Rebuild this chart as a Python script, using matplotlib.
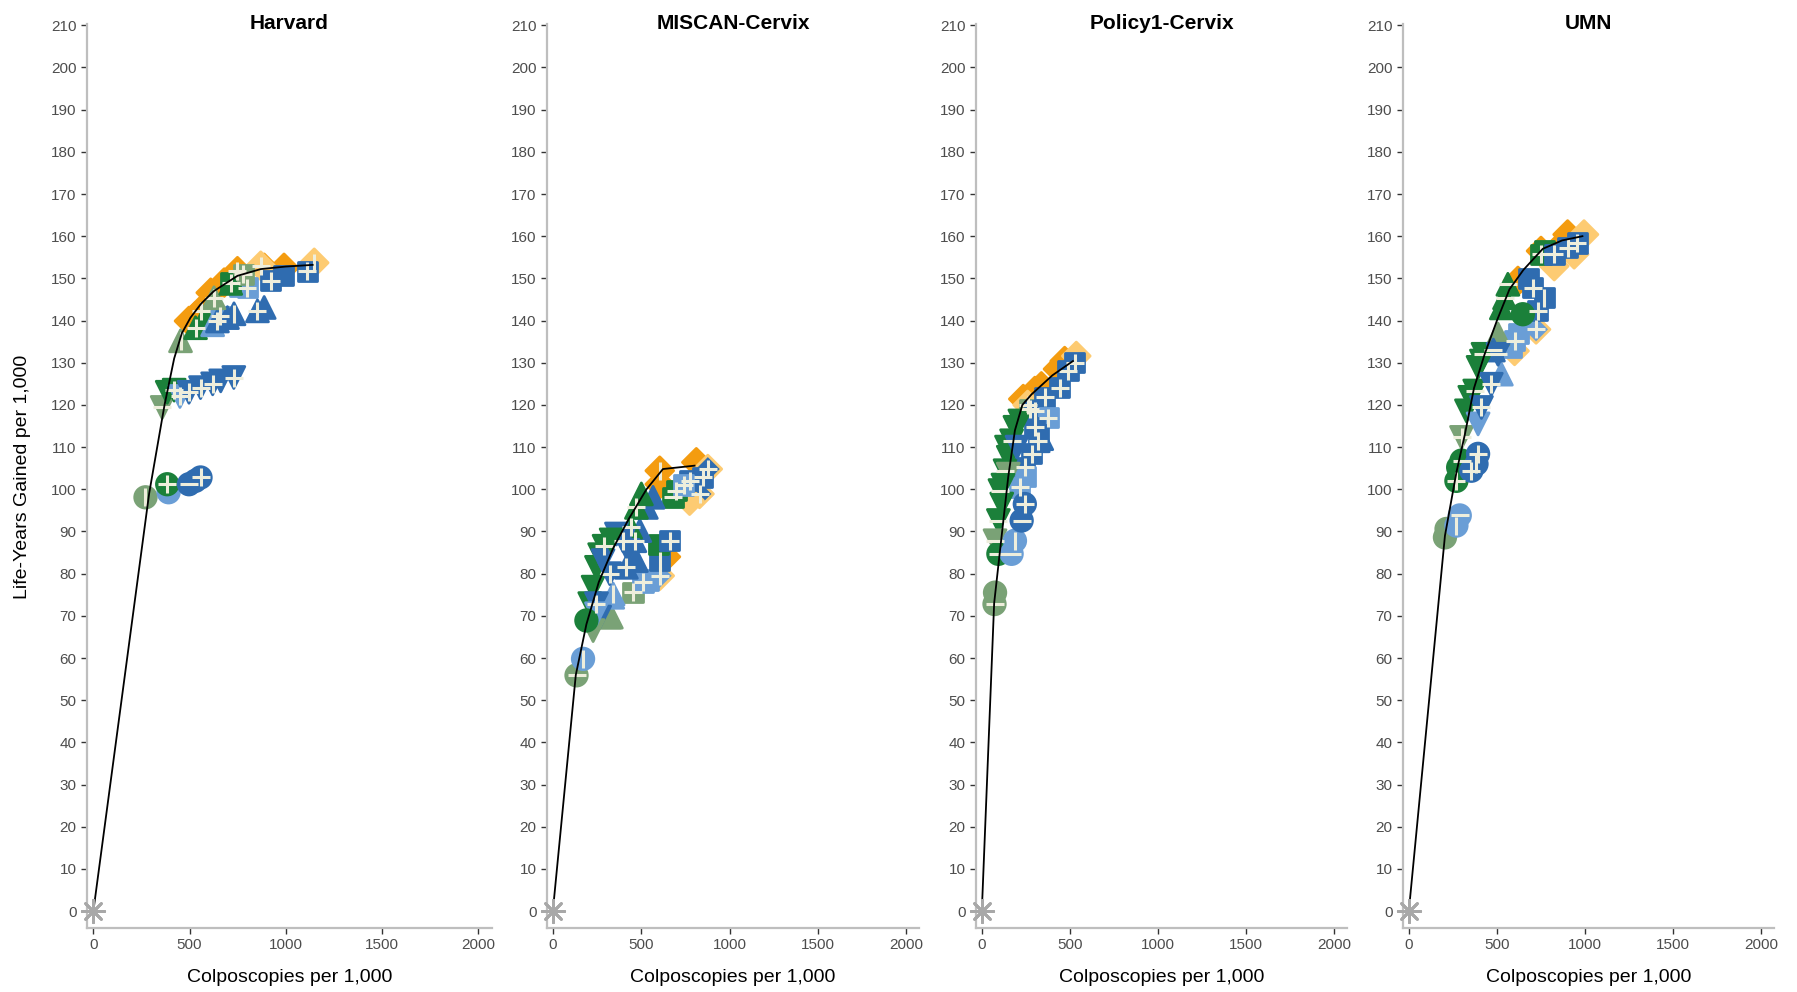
import matplotlib.pyplot as plt

plt.rcParams['font.family'] = ['Liberation Sans', 'DejaVu Sans']

# colour codes used in the point lists ("edge/fill" when they differ)
colores = {'lg': '#7AA276', 'dg': '#1B803A', 'lb': '#6A9ED6', 'db': '#2F6CB0',
           'or': '#F49C10', 'lo': '#FDCB72'}

# ---------------- Harvard ----------------
harvard_x = [497, 530, 557, 610, 680, 749, 888, 991, 870, 1148,
             660, 801, 760, 714, 780, 922, 990, 1113,
             453, 531, 580, 620, 645, 697, 731, 853, 888, 627, 714,
             358, 384, 420, 450, 497, 557, 620, 662, 730,
             271, 391, 384, 497, 530, 557]
harvard_y = [139.9, 141, 142.3, 146.6, 149, 151.7, 152.5, 152.5, 153, 153.7,
             141, 147.8, 148, 149, 151, 149.4, 150.6, 151.7,
             135.2, 138.3, 141, 139, 139.9, 140.7, 141.6, 142.3, 143.1, 145.4, 148.8,
             119.4, 123, 123.5, 122, 123, 124.1, 125, 125.7, 126.5,
             98.1, 99.3, 101.2, 101.2, 102, 102.8]
harvard_forma = 'DDDDDDDDDD' + 'ssssssss' + '^^^^^^^^^^^' + 'vvvvvvvvv' + 'oooooo'
harvard_color = ['or', 'or', 'or', 'or', 'or', 'or', 'or', 'or', 'lo', 'lo',
                 'lb', 'lb', 'lb', 'dg', 'lg', 'db', 'db', 'db',
                 'lg', 'dg', 'dg', 'lb', 'db', 'db', 'db', 'db', 'db', 'lg', 'dg',
                 'lg', 'dg', 'dg', 'lb', 'db', 'db', 'db', 'db', 'db',
                 'lg', 'lb', 'dg', 'db', 'db', 'db']
harvard_marca = '  +  +  +|' + '++ +++ +' + '|+  + |+ + ' + '- +++++ +' + '| +- +'
harvard_fx = [0, 290, 370, 420, 460, 505, 560, 627, 749, 870, 1000, 1140]
harvard_fy = [0, 99, 120, 131, 137, 140.7, 144, 147, 150.6, 152.2, 152.8, 153.2]

# ---------------- MISCAN-Cervix ----------------
miscan_x = [605, 605, 812, 877, 830, 774, 605, 640,
            680, 699, 774, 849, 740, 454, 510, 540, 605, 600, 661,
            322, 331, 341, 339, 416, 473, 464, 492, 529, 567, 473, 501, 440,
            209, 228, 247, 265, 290, 247, 265, 284, 322, 360, 397, 426, 330, 228, 247,
            134, 171, 190]
miscan_y = [104.4, 101.2, 106.4, 104.8, 98.9, 97.3, 79.5, 84,
            98.1, 99.7, 102, 102.8, 101, 75.6, 78, 78.5, 83.1, 87, 87.8,
            69.7, 69.7, 75.2, 74.4, 81.5, 83.1, 87.8, 90.2, 95.7, 98.1, 95.7, 98.9, 91,
            72.9, 76.8, 81.5, 84.5, 86.5, 72.9, 69.7, 83.1, 80, 89.4, 87.8, 85.5, 88, 66.5, 70.5,
            55.9, 59.8, 68.9]
miscan_forma = 'DDDDDDDD' + 'sssssssssss' + '^^^^^^^^^^^^^' + 'vvvvvvvvvvvvvvv' + 'ooo'
miscan_color = ['or', 'or', 'or', 'lo/db', 'lo/db', 'lo', 'lo/lb', 'or',
                'dg', 'dg', 'db', 'db', 'lb', 'lg', 'lb', 'lb', 'db', 'dg', 'db',
                'lg', 'lg', 'lb', 'lb', 'db', 'db', 'db', 'db', 'db', 'db', 'dg', 'dg', 'dg',
                'dg', 'dg', 'dg', 'dg', 'dg', 'db', 'db', 'db', 'db', 'db', 'db', 'db', 'dg', 'lg', 'lb',
                'lg', 'lb', 'dg']
miscan_marca = '|  ++ + ' + '-++++++ | +' + '  | + +   + +' + '    ++  + +    ' + '-| '
miscan_fx = [0, 130, 190, 260, 341, 430, 530, 623, 802]
miscan_fy = [0, 56, 68, 78, 86, 93, 100, 104.8, 105.6]

# ---------------- Policy1-Cervix ----------------
policy_x = [235, 301, 338, 432, 470, 536, 260,
            273, 301, 357, 376, 442, 489, 527, 320, 244, 282, 301, 216, 250,
            320, 340,
            94, 113, 103, 132, 150, 169, 188, 216, 75, 150, 120, 140, 200,
            72, 75, 94, 169, 188, 226, 244]
policy_y = [121.4, 123.3, 124.4, 128.5, 130.4, 131.6, 120,
            119, 118.6, 121.8, 117, 124.1, 128.1, 130, 113, 105.2, 108.4, 114.7, 100.5, 103,
            111.5, 112,
            92.6, 96.5, 99.7, 104.4, 107.6, 111.5, 114.7, 116.2, 87.8, 103.6, 101, 110, 110,
            72.8, 75.5, 84.7, 84.7, 87.8, 92.6, 96.5]
policy_forma = 'DDDDDDD' + 'sssssssssssss' + '^^' + 'vvvvvvvvvvvvv' + 'ooooooo'
policy_color = ['or', 'or', 'or', 'or', 'or', 'lo', 'lo',
                'lg', 'db', 'db', 'lb', 'db', 'db', 'db', 'db', 'db', 'db', 'db', 'lb', 'lb',
                'db', 'db',
                'dg', 'dg', 'dg', 'dg', 'dg', 'dg', 'dg', 'dg', 'lg', 'lg', 'dg', 'dg', 'db',
                'lg', 'lg', 'dg', 'lb', 'lb', 'db', 'db']
policy_marca = '      +' + '+++++++ ++++ ' + '+ ' + '- -- -  -    ' + '- --|-+'
policy_fx = [0, 70, 110, 150, 188, 230, 282, 400, 517]
policy_fy = [0, 73, 88, 103, 114, 120, 122.5, 127, 130.4]

# ---------------- UMN ----------------
umn_x = [619, 750, 863, 901, 994, 938, 825, 600, 722,
         750, 769, 825, 901, 957, 703, 769, 731, 600, 580, 620, 680,
         562, 543, 525, 506, 525, 480,
         327, 346, 374, 393, 412, 421, 299, 393, 412, 468, 506,
         205, 214, 270, 289, 270, 280, 299, 355, 384, 393, 647]
umn_y = [149.4, 156.5, 157.8, 160.4, 160.4, 155.7, 152.9, 132.8, 137.9,
         155.7, 156.5, 155.7, 157.3, 158.4, 147.8, 145.4, 142.3, 135.2, 133.6, 137, 150,
         148.6, 145.4, 143, 136.8, 127.3, 133,
         118.6, 121.8, 123.3, 128.9, 130.4, 132, 112.3, 115.5, 119.4, 124.9, 132,
         88.6, 90.6, 91.4, 93.8, 102, 105.2, 106.8, 104.4, 106, 108.4, 141.5]
umn_forma = 'DDDDDDDDD' + 'ssssssssssss' + '^^^^^^' + 'vvvvvvvvvvv' + 'ooooooooooo'
umn_color = ['or', 'or', 'or', 'or', 'lo', 'lo', 'lo', 'lo', 'lo/lb',
             'dg', 'dg', 'db', 'db', 'db', 'db', 'db', 'db', 'lb', 'lb', 'lb', 'db',
             'dg', 'dg', 'dg', 'lg', 'lb', 'db',
             'dg', 'dg', 'dg', 'dg', 'dg', 'dg', 'lg', 'lb', 'db', 'db', 'db',
             'lg', 'lg', 'lb', 'lb', 'dg', 'dg', 'dg', 'db', 'db', 'db', 'dg']
umn_marca = '        +' + '+ ++++|++  ' + ' --   ' + '-  -  -+ ++' + '-  |-+ -+|+'
umn_fx = [0, 205, 270, 318, 370, 430, 500, 571, 650, 760, 870, 985]
umn_fy = [0, 89, 104, 113, 124, 132, 140, 147.4, 152, 157, 159, 160]

tamanos = {'o': 240, 's': 190, 'D': 200, '^': 250, 'v': 250}
marcas = {'+': '+', '|': '|', '-': '_'}


def panel(ax, titulo, px, py, forma, color, marca, fx, fy):
    for f in 'Ds^vo':
        idx = [i for i in range(len(px)) if forma[i] == f]
        if not idx:
            continue
        bordes = [colores[color[i].split('/')[0]] for i in idx]
        rellenos = [colores[color[i].split('/')[-1]] for i in idx]
        ax.scatter([px[i] for i in idx], [py[i] for i in idx], marker=f, s=tamanos[f],
                   c=rellenos, edgecolors=bordes, linewidths=2, zorder=2)
    for m, mk in marcas.items():
        idx = [i for i in range(len(px)) if i < len(marca) and marca[i] == m]
        if idx:
            ax.scatter([px[i] for i in idx], [py[i] for i in idx], marker=mk, s=150,
                       c='#EEEEDC', linewidths=2.2, zorder=3)
    ax.plot(fx, fy, color='black', lw=1.3, zorder=4)
    ax.scatter([0], [0], marker=(8, 2, 0), s=260, c='#A8A8A8', linewidths=2,
               zorder=5, clip_on=False)

    ax.set_xlim(-33, 2072)
    ax.set_ylim(-4, 210.3)
    ax.set_xticks([0, 500, 1000, 1500, 2000])
    ax.set_yticks(range(0, 211, 10))
    ax.tick_params(length=4, width=1, color='#333333', labelcolor='#4D4D4D', labelsize=11)
    for lado in ['top', 'right']:
        ax.spines[lado].set_visible(False)
    for lado in ['left', 'bottom']:
        ax.spines[lado].set_color('#BEBEBE')
        ax.spines[lado].set_linewidth(1.6)
    ax.annotate(titulo, xy=(0.5, 1), xycoords='axes fraction', xytext=(0, -3.6),
                textcoords='offset points', ha='center', va='baseline',
                fontsize=15, fontweight='bold')
    ax.annotate('Colposcopies per 1,000', xy=(0.5, 0), xycoords='axes fraction',
                xytext=(0, -36), textcoords='offset points', ha='center', va='center',
                fontsize=14)


fig = plt.figure(figsize=(17.97, 9.92), dpi=100)
cajas = [(87, 405), (547, 372), (976, 371), (1403, 371)]
datos = [('Harvard', harvard_x, harvard_y, harvard_forma, harvard_color, harvard_marca, harvard_fx, harvard_fy),
         ('MISCAN-Cervix', miscan_x, miscan_y, miscan_forma, miscan_color, miscan_marca, miscan_fx, miscan_fy),
         ('Policy1-Cervix', policy_x, policy_y, policy_forma, policy_color, policy_marca, policy_fx, policy_fy),
         ('UMN', umn_x, umn_y, umn_forma, umn_color, umn_marca, umn_fx, umn_fy)]

for (izq, ancho), d in zip(cajas, datos):
    ax = fig.add_axes([izq / 1797, 64 / 992, ancho / 1797, 904 / 992])
    panel(ax, *d)

fig.text(23 / 1797, 1 - 477 / 992, 'Life-Years Gained per 1,000', rotation=90,
         ha='center', va='center', fontsize=14)

fig.savefig('out.png', dpi=100)
